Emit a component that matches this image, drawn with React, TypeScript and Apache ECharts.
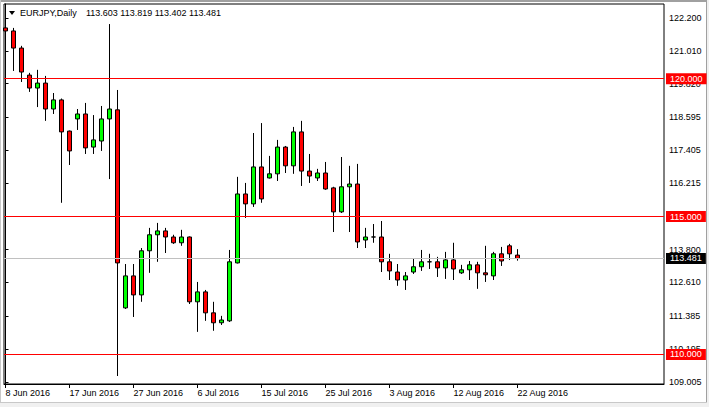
import React, { useEffect, useRef } from 'react';
import * as echarts from 'echarts';

const symbolTitle = 'EURJPY,Daily';
const lastQuote = '113.603 113.819 113.402 113.481';

const opens = [
  121.84, 121.73, 121.11, 120.13, 119.66, 119.84, 118.90, 119.23, 118.10, 118.54,
  118.72, 117.52, 117.74, 118.54, 118.87, 111.69, 112.85, 112.16, 113.76, 114.34,
  114.48, 114.26, 114.05, 114.26, 111.91, 112.27, 111.51, 111.15, 111.22, 113.32,
  115.82, 115.46, 116.80, 116.40, 116.55, 117.52, 116.84, 118.07, 116.65, 116.40,
  116.58, 116.04, 115.17, 116.08, 116.18, 114.15, 114.26, 114.26, 113.36, 112.99,
  112.70, 112.99, 113.18, 113.36, 113.36, 113.14, 113.43, 112.96, 113.07, 113.25,
  112.96, 112.85, 113.65, 113.94, 113.603,
];
const closes = [
  121.73, 121.11, 120.24, 119.66, 119.84, 118.90, 119.23, 118.07, 117.38, 118.72,
  117.49, 117.78, 118.54, 118.90, 113.32, 112.85, 112.16, 113.76, 114.34, 114.48,
  114.26, 114.05, 114.26, 111.91, 112.27, 111.51, 111.15, 111.25, 113.36, 115.82,
  115.46, 116.80, 115.64, 116.55, 117.52, 116.84, 118.07, 116.65, 116.47, 116.58,
  116.00, 115.17, 116.08, 116.18, 114.08, 114.26, 114.26, 113.36, 113.03, 112.70,
  112.85, 113.18, 113.36, 113.36, 113.14, 113.43, 113.10, 113.07, 113.25, 112.96,
  112.89, 113.65, 113.39, 113.65, 113.481,
];
const lows = [
  121.33, 120.28, 119.88, 119.52, 118.97, 118.47, 118.72, 115.50, 116.87, 118.14,
  117.27, 117.27, 117.38, 116.36, 109.22, 111.65, 111.36, 111.91, 112.96, 113.36,
  113.68, 114.01, 113.94, 111.83, 110.82, 111.22, 110.86, 111.07, 111.18, 113.30,
  114.95, 115.35, 115.50, 116.38, 116.29, 116.58, 116.55, 116.11, 116.22, 116.29,
  115.97, 114.44, 115.13, 114.44, 113.86, 113.86, 114.05, 112.99, 112.70, 112.49,
  112.34, 112.92, 113.03, 113.10, 112.81, 112.74, 112.70, 112.92, 112.70, 112.38,
  112.63, 112.70, 113.21, 113.43, 113.402,
];
const highs = [
  122.02, 121.84, 121.19, 120.21, 120.32, 120.10, 119.48, 119.28, 118.12, 118.90,
  119.12, 118.68, 119.01, 121.98, 119.59, 113.28, 113.28, 113.86, 114.59, 114.77,
  114.59, 114.34, 114.52, 114.28, 112.63, 112.34, 111.91, 111.40, 113.79, 116.44,
  116.22, 118.03, 118.39, 117.20, 117.78, 117.56, 118.25, 118.47, 117.27, 116.73,
  116.98, 116.08, 117.16, 116.84, 116.91, 114.59, 114.73, 114.84, 113.65, 113.28,
  112.99, 113.47, 113.79, 113.65, 113.54, 113.72, 114.05, 113.25, 113.39, 113.36,
  113.94, 113.72, 113.90, 114.01, 113.819,
];

const dateTickIndexes = [0, 8, 16, 24, 32, 40, 48, 56, 64];
const dateTickLabels = [
  '8 Jun 2016', '17 Jun 2016', '27 Jun 2016', '6 Jul 2016', '15 Jul 2016',
  '25 Jul 2016', '3 Aug 2016', '12 Aug 2016', '22 Aug 2016',
];
const priceTicks = [
  122.2, 121.01, 119.82, 118.595, 117.405, 116.215, 115.025, 113.8, 112.61, 111.385, 110.195, 109.005,
];
const levelLines = [120, 115, 110];
const bidPrice = 113.481;

const FONT = 'Liberation Sans';

export default function App() {
  const ref = useRef<HTMLDivElement>(null);
  useEffect(() => {
    if (!ref.current) return;
    const chart = echarts.init(ref.current, null, { renderer: 'svg' });
    const data = opens.map((o, i) => [i, o, closes[i], lows[i], highs[i]]);
    const lineLabel = (bg: string, text: string) => ({
      show: true,
      position: 'end',
      distance: 2,
      color: '#fff',
      fontSize: 9,
      fontFamily: FONT,
      backgroundColor: bg,
      padding: [1, 4, 0, 4],
      lineHeight: 10,
      formatter: () => text,
    });
    const markData: any[] = levelLines.map((v) => ({
      yAxis: v,
      lineStyle: { color: '#ff0000', width: 1, type: 'solid' },
      label: lineLabel('#ff0000', v.toFixed(3)),
    }));
    markData.unshift({
      yAxis: bidPrice,
      lineStyle: { color: '#c0c0c0', width: 1, type: 'solid' },
      label: lineLabel('#000000', bidPrice.toFixed(3)),
    });
    chart.setOption({
      animation: false,
      backgroundColor: '#ffffff',
      grid: {
        left: 4, right: 45, top: 4, bottom: 23,
        show: true, borderColor: '#000', borderWidth: 1, backgroundColor: '#fff',
      },
      xAxis: {
        type: 'value',
        min: -0.1875,
        max: 82.3125,
        splitLine: { show: false },
        axisLine: { show: true, lineStyle: { color: '#000', width: 1 } },
        axisTick: { show: true, customValues: dateTickIndexes, length: 4, lineStyle: { color: '#000' } },
        axisLabel: {
          customValues: dateTickIndexes,
          formatter: (v: number) => {
            const k = dateTickIndexes.indexOf(Math.round(v));
            return k >= 0 ? dateTickLabels[k] : '';
          },
          align: 'left',
          margin: 4,
          fontSize: 9,
          fontFamily: FONT,
          color: '#000',
        },
      },
      yAxis: {
        type: 'value',
        position: 'right',
        min: 108.93,
        max: 122.707,
        splitLine: { show: false },
        axisLine: { show: true, lineStyle: { color: '#000', width: 1 } },
        axisTick: { show: true, customValues: priceTicks, length: 3, lineStyle: { color: '#000' } },
        axisLabel: {
          customValues: priceTicks,
          formatter: (v: number) => v.toFixed(3),
          margin: 5,
          fontSize: 9,
          fontFamily: FONT,
          color: '#000',
        },
      },
      series: [
        {
          type: 'candlestick',
          data,
          encode: { x: 0, y: [1, 2, 3, 4] },
          barWidth: 4,
          clip: true,
          itemStyle: {
            color: '#00ff00',
            color0: '#ff0000',
            borderColor: '#000',
            borderColor0: '#000',
            borderColorDoji: '#000',
            borderWidth: 1,
          },
          markLine: {
            silent: true,
            symbol: ['none', 'none'],
            animation: false,
            precision: 3,
            data: markData,
          },
        },
      ],
      graphic: [
        { type: 'rect', shape: { x: 0, y: 0, width: 709, height: 2 }, style: { fill: '#a0a0a0' }, silent: true },
        { type: 'rect', shape: { x: 0, y: 0, width: 1, height: 407 }, style: { fill: '#c8c8c8' }, silent: true },
        { type: 'rect', shape: { x: 706, y: 0, width: 3, height: 407 }, style: { fill: '#f0f0f0' }, silent: true },
        { type: 'rect', shape: { x: 706, y: 0, width: 1, height: 403 }, style: { fill: '#a0a0a0' }, silent: true },
        { type: 'rect', shape: { x: 0, y: 402, width: 709, height: 5 }, style: { fill: '#f0f0f0' }, silent: true },
        { type: 'rect', shape: { x: 0, y: 402, width: 707, height: 1 }, style: { fill: '#c8c8c8' }, silent: true },
        { type: 'polygon', shape: { points: [[9, 11], [15, 11], [12, 15]] }, style: { fill: '#000' }, silent: true },
        {
          type: 'text', x: 20, y: 13,
          style: { text: symbolTitle, fill: '#000', fontSize: 9, fontFamily: FONT, verticalAlign: 'middle', align: 'left' },
          silent: true,
        },
        {
          type: 'text', x: 86, y: 13,
          style: { text: lastQuote, fill: '#000', fontSize: 9, fontFamily: FONT, verticalAlign: 'middle', align: 'left' },
          silent: true,
        },
      ],
    });
    return () => chart.dispose();
  }, []);
  return (
    <div
      ref={ref}
      style={{ position: 'fixed', left: 0, top: 0, width: 709, height: 407 }}
    />
  );
}
